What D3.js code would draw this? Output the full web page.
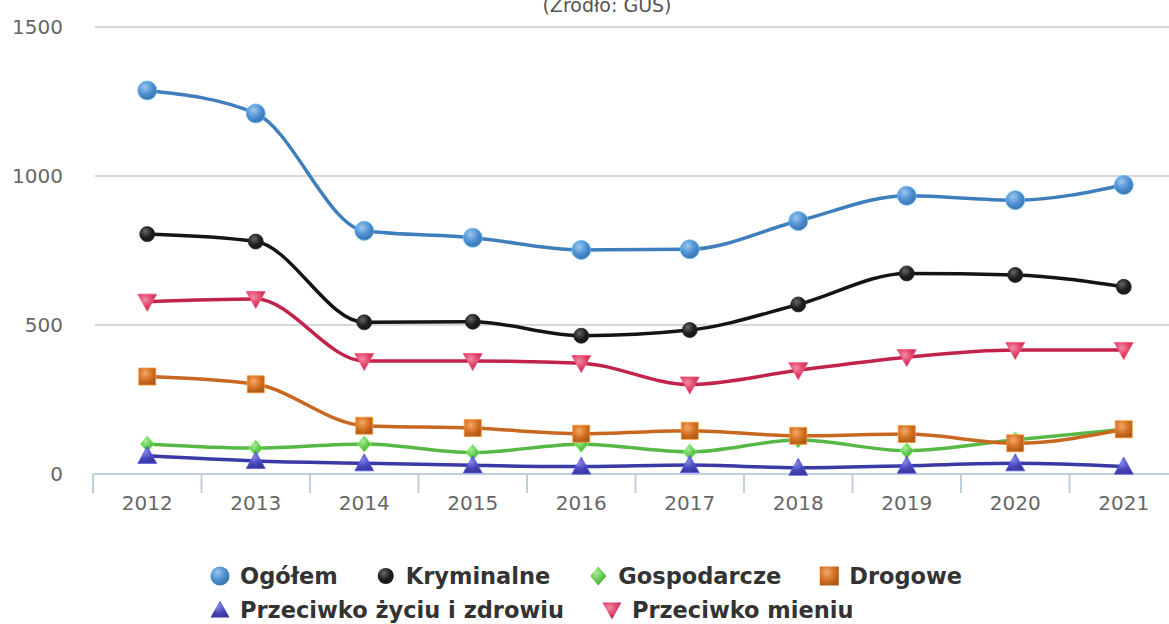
<!DOCTYPE html>
<html>
<head>
<meta charset="utf-8">
<script src="https://cdn.jsdelivr.net/npm/d3@7"></script>
<style>
  body { margin: 0; background: #fff; }
  svg { display: block; font-family: "DejaVu Sans", sans-serif; }
</style>
</head>
<body>
<svg id="chart" width="1169" height="624"></svg>
<script>
const years = ["2012", "2013", "2014", "2015", "2016", "2017", "2018", "2019", "2020", "2021"];
const yTicks = [0, 500, 1000, 1500];

const ogolem = [1287, 1210, 816, 793, 752, 754, 849, 934, 919, 970];
const kryminalne = [805, 780, 509, 511, 464, 483, 569, 673, 668, 628];
const gospodarcze = [101, 87, 101, 72, 100, 74, 114, 78, 115, 150];
const drogowe = [327, 301, 162, 154, 135, 145, 128, 134, 103, 150];
const zycie = [61, 44, 36, 29, 25, 30, 21, 28, 36, 25];
const mienie = [578, 587, 379, 379, 372, 300, 348, 392, 416, 416];

const series = [
  { name: "Ogółem", values: ogolem, line: "#3f7ebd", fill: "#4a8dd0", light: "#9cc6ee", symbol: "circle", r: 9.5 },
  { name: "Kryminalne", values: kryminalne, line: "#141414", fill: "#1e1e1e", light: "#666", symbol: "circle", r: 7.5 },
  { name: "Gospodarcze", values: gospodarcze, line: "#57b845", fill: "#5fc94c", light: "#a8ec98", symbol: "diamond", r: 8 },
  { name: "Drogowe", values: drogowe, line: "#c8671f", fill: "#d36f22", light: "#f3a868", symbol: "square", r: 8.5 },
  { name: "Przeciwko życiu i zdrowiu", values: zycie, line: "#3a3aa6", fill: "#4545bb", light: "#8a8ae6", symbol: "triangle", r: 9.5 },
  { name: "Przeciwko mieniu", values: mienie, line: "#c2234b", fill: "#dd3e63", light: "#f38aa3", symbol: "triangle-down", r: 9.5 }
];
const legendRows = [[0, 1, 2, 3], [4, 5]];

const svg = d3.select("#chart");
const defs = svg.append("defs");

series.forEach((s, i) => {
  const g = defs.append("radialGradient")
    .attr("id", "grad" + i)
    .attr("cx", "38%").attr("cy", "32%").attr("r", "70%");
  g.append("stop").attr("offset", "0%").attr("stop-color", s.light);
  g.append("stop").attr("offset", "60%").attr("stop-color", s.fill);
  g.append("stop").attr("offset", "100%").attr("stop-color", d3.color(s.fill).darker(0.6));
});

const x = d3.scaleBand().domain(years).range([93, 1178]).padding(0);
const y = d3.scaleLinear().domain([0, 1500]).range([474, 27]);

// subtitle (the title above it lies outside the picture)
svg.append("text")
  .attr("x", 607).attr("y", 12)
  .attr("text-anchor", "middle")
  .attr("font-size", 19)
  .attr("fill", "#555")
  .text("(Źródło: GUS)");

// grid lines
svg.append("g")
  .selectAll("line")
  .data(yTicks.filter(d => d > 0))
  .join("line")
  .attr("x1", 95).attr("x2", 1169)
  .attr("y1", d => y(d)).attr("y2", d => y(d))
  .attr("stroke", "#d9d9d9")
  .attr("stroke-width", 2);

// y labels
svg.append("g")
  .selectAll("text")
  .data(yTicks)
  .join("text")
  .attr("x", 63)
  .attr("y", d => y(d) + 7)
  .attr("text-anchor", "end")
  .attr("font-size", 20)
  .attr("fill", "#666")
  .text(d => d);

// x axis
const xAxis = svg.append("g").attr("transform", "translate(0,474)");
xAxis.append("line")
  .attr("x1", 93).attr("x2", 1169)
  .attr("stroke", "#c0cfe0").attr("stroke-width", 2);
xAxis.selectAll("line.tick")
  .data(years)
  .join("line")
  .attr("class", "tick")
  .attr("x1", d => x(d)).attr("x2", d => x(d))
  .attr("y1", 0).attr("y2", 19)
  .attr("stroke", "#c0cfe0").attr("stroke-width", 2);
xAxis.selectAll("text")
  .data(years)
  .join("text")
  .attr("x", d => x(d) + x.bandwidth() / 2)
  .attr("y", 36)
  .attr("text-anchor", "middle")
  .attr("font-size", 20)
  .attr("fill", "#666")
  .text(d => d);

const symbolPath = (type, r) => {
  if (type === "circle") return d3.symbol(d3.symbolCircle, Math.PI * r * r)();
  if (type === "square") return d3.symbol(d3.symbolSquare, 4 * r * r)();
  if (type === "diamond") return `M0,${-r}L${r * 0.85},0L0,${r}L${-r * 0.85},0Z`;
  if (type === "triangle") return `M0,${-r}L${r},${r * 0.8}L${-r},${r * 0.8}Z`;
  return `M0,${r}L${r},${-r * 0.8}L${-r},${-r * 0.8}Z`;
};

const line = d3.line()
  .x((d, i) => x(years[i]) + x.bandwidth() / 2)
  .y(d => y(d))
  .curve(d3.curveMonotoneX);

const plot = svg.append("g");
series.forEach((s, i) => {
  const g = plot.append("g");
  g.append("path")
    .attr("d", line(s.values))
    .attr("fill", "none")
    .attr("stroke", s.line)
    .attr("stroke-width", 3.5);
  g.selectAll("path.marker")
    .data(s.values)
    .join("path")
    .attr("class", "marker")
    .attr("transform", (d, j) => `translate(${x(years[j]) + x.bandwidth() / 2},${y(d)})`)
    .attr("d", symbolPath(s.symbol, s.r))
    .attr("fill", `url(#grad${i})`)
    .attr("stroke", d3.color(s.fill).brighter(0.8))
    .attr("stroke-width", 0.8);
});

// legend
const legend = svg.append("g");
legendRows.forEach((row, ri) => {
  let cx = 220;
  const cy = 576 + ri * 34;
  row.forEach(idx => {
    const s = series[idx];
    const item = legend.append("g");
    item.append("path")
      .attr("transform", `translate(${cx},${cy})`)
      .attr("d", symbolPath(s.symbol, idx === 1 ? 8 : 9.5))
      .attr("fill", `url(#grad${idx})`);
    const t = item.append("text")
      .attr("x", cx + 20)
      .attr("y", cy + 8)
      .attr("font-size", 22.5)
      .attr("font-weight", "bold")
      .attr("fill", "#333")
      .text(s.name);
    cx += 20 + t.node().getComputedTextLength() + 48;
  });
});
</script>
</body>
</html>
